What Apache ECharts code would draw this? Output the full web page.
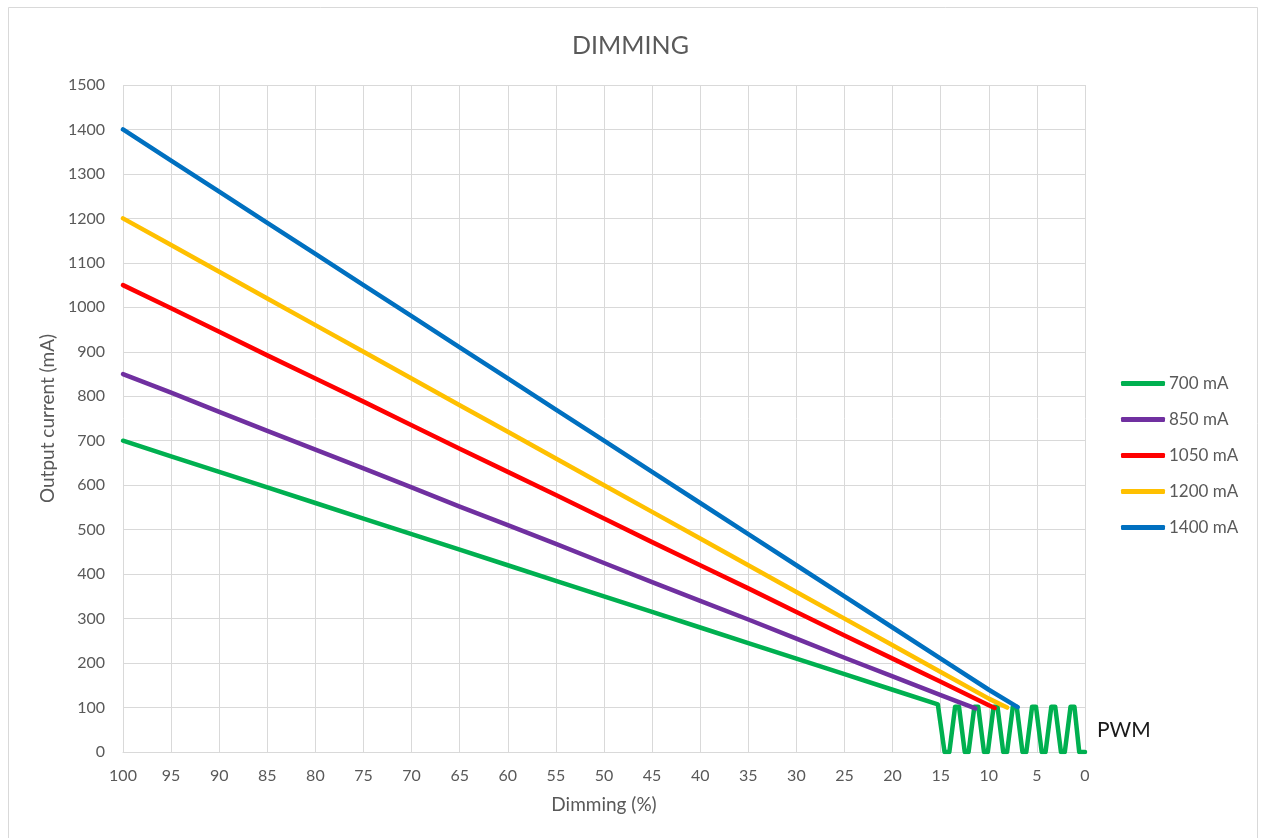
<!DOCTYPE html>
<html>
<head>
<meta charset="utf-8">
<script src="https://cdn.jsdelivr.net/npm/echarts@6/dist/echarts.min.js"></script>
<style>
html,body{margin:0;padding:0;background:#fff;}
#c{width:1261px;height:838px;}
</style>
</head>
<body>
<div id="c"></div>
<script>
// ---- data ----
const seriesNames = ['700 mA', '850 mA', '1050 mA', '1200 mA', '1400 mA'];
const seriesColors = ['#00B050', '#7030A0', '#FF0000', '#FFC000', '#0070C0'];

const dimSteps = [100, 95, 90, 85, 80, 75, 70, 65, 60, 55, 50, 45, 40, 35, 30, 25, 20];

const val700  = [700, 665, 630, 595, 560, 525, 490, 455, 420, 385, 350, 315, 280, 245, 210, 175, 140];
const val850  = [850, 808, 765, 722, 680, 638, 595, 552, 510, 468, 425, 382, 340, 298, 255, 212, 170];
const val1050 = [1050, 998, 945, 892, 840, 788, 735, 682, 630, 578, 525, 472, 420, 368, 315, 262, 210];
const val1200 = [1200, 1140, 1080, 1020, 960, 900, 840, 780, 720, 660, 600, 540, 480, 420, 360, 300, 240];
const val1400 = [1400, 1330, 1260, 1190, 1120, 1050, 980, 910, 840, 770, 700, 630, 560, 490, 420, 350, 280];

// tail points (dimming %, mA) below 20 %
const tail850  = [[15, 128], [11.4, 98]];
const tail1050 = [[15, 158], [10, 105], [9.4, 99]];
const tail1200 = [[15, 180], [10, 120], [8.1, 100]];
const tail1400 = [[15, 210], [10, 140], [7.0, 101]];

// 700 mA: linear part ends, then PWM square-ish wave between 0 and ~100 mA
const tail700 = [
  [15.3, 107], [14.6, 0], [14.1, 0], [13.5, 102], [13.1, 102],
  [12.5, 0], [12.1, 0], [11.5, 102], [11.1, 102],
  [10.5, 0], [10.1, 0], [9.5, 102], [9.1, 102],
  [8.5, 0], [8.1, 0], [7.5, 102], [7.1, 102],
  [6.5, 0], [6.1, 0], [5.5, 102], [5.1, 102],
  [4.5, 0], [4.1, 0], [3.5, 102], [3.1, 102],
  [2.5, 0], [2.1, 0], [1.5, 102], [1.1, 102],
  [0.6, 0], [0, 0]
];

const xTickInterval = 5;
const yTickInterval = 100;

function pairs(xs, ys, tail) {
  const out = xs.map((x, i) => [x, ys[i]]);
  return out.concat(tail);
}

const seriesData = [
  pairs(dimSteps, val700, tail700),
  pairs(dimSteps, val850, tail850),
  pairs(dimSteps, val1050, tail1050),
  pairs(dimSteps, val1200, tail1200),
  pairs(dimSteps, val1400, tail1400)
];

const FONT = 'Lato, "Open Sans", sans-serif';
const chart = echarts.init(document.getElementById('c'));

const option = {
  backgroundColor: '#ffffff',
  animation: false,
  textStyle: { fontFamily: FONT },
  title: {
    text: 'DIMMING',
    left: 'center',
    top: 28,
    textStyle: { color: '#595959', fontSize: 25, fontWeight: 'normal', fontFamily: FONT }
  },
  grid: { left: 123, right: 176, top: 85, bottom: 86, containLabel: false },
  legend: {
    orient: 'vertical',
    left: 1116,
    top: 370,
    itemWidth: 44,
    itemHeight: 5,
    itemGap: 19,
    icon: 'roundRect',
    data: seriesNames,
    textStyle: { color: '#595959', fontSize: 17, fontFamily: FONT, padding: [0, 0, 0, -1] }
  },
  xAxis: {
    type: 'value',
    inverse: true,
    min: 0,
    max: 100,
    interval: xTickInterval,
    name: 'Dimming (%)',
    nameLocation: 'middle',
    nameGap: 43,
    nameTextStyle: { color: '#595959', fontSize: 19, fontFamily: FONT },
    axisLine: { show: true, lineStyle: { color: '#d9d9d9', width: 1 } },
    axisTick: { show: false },
    axisLabel: { color: '#595959', fontSize: 16, margin: 16, fontFamily: FONT },
    splitLine: { show: true, lineStyle: { color: '#d9d9d9', width: 1 } }
  },
  yAxis: {
    type: 'value',
    min: 0,
    max: 1500,
    interval: yTickInterval,
    name: 'Output current (mA)',
    nameLocation: 'middle',
    nameGap: 64,
    nameTextStyle: { color: '#595959', fontSize: 19, fontFamily: FONT },
    axisLine: { show: false },
    axisTick: { show: false },
    axisLabel: { color: '#595959', fontSize: 16, margin: 18, fontFamily: FONT, formatter: v => String(v) },
    splitLine: { show: true, lineStyle: { color: '#d9d9d9', width: 1 } }
  },
  series: seriesNames.map((name, i) => ({
    name: name,
    type: 'line',
    data: seriesData[i],
    showSymbol: false,
    symbol: 'none',
    color: seriesColors[i],
    lineStyle: { color: seriesColors[i], width: 4.5, join: 'round', cap: 'round' },
    z: 2 + i
  }))
};

chart.setOption(option);

const p = chart.convertToPixel({ xAxisIndex: 0, yAxisIndex: 0 }, [0, 50]);
chart.setOption({
  graphic: [
    {
      type: 'rect',
      silent: true,
      shape: { x: 8.5, y: 7.5, width: 1249, height: 850 },
      style: { fill: 'none', stroke: '#d9d9d9', lineWidth: 1 }
    },
    {
      type: 'text',
      silent: true,
      x: p[0] + 12,
      y: p[1],
      style: {
        text: 'PWM',
        fill: '#1a1a1a',
        fontSize: 21,
        fontFamily: FONT,
        textVerticalAlign: 'middle'
      }
    }
  ]
});
</script>
</body>
</html>
